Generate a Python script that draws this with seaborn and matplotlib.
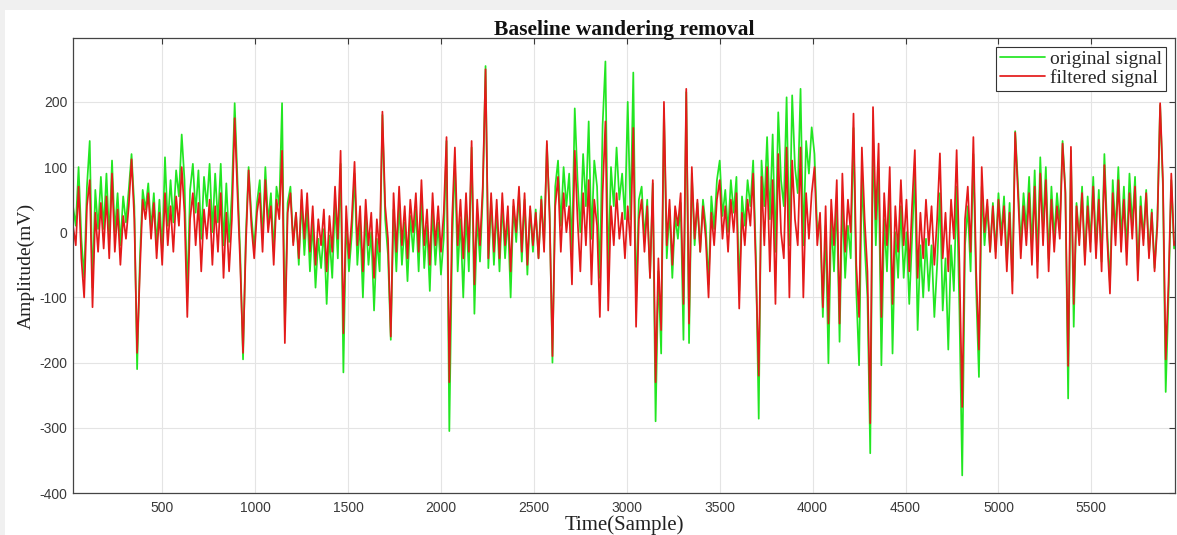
import numpy as np
import pandas as pd
import matplotlib
matplotlib.use("Agg")
import matplotlib.pyplot as plt
from matplotlib.patches import Rectangle
import seaborn as sns

# ---------------- data (one value every 15 samples) ----------------
sample_step = 15
sample_start = 20

filtered_signal = [
    10, -20, 70, -40, -100, 40, 80, -115, 30, -30, 45, -25, 55, -40, 90, -30, 35, -50, 25, -10,
    40, 112, 20, -185, -60, 50, 20, 60, -10, 45, -40, 30, -50, 60,
    -20, 40, -30, 55, 10, 100, 30, -130, 20, 60, -20, 45, -60, 35, -10, 50, -50, 40, -30, 60,
    -70, 30, -60, 20, 175, 60, -50, -185, -20, 95, 10, -40, 30,
    60, -30, 80, 0, 40, -50, 50, 20, 125, -170, 30, 60, -20, 30, -40, 65, -10, 60, -30, 40,
    -50, 20, -20, 35, -60, 25, -30, 70, -10, 125, -155, 40, -40,
    20, 108, -20, 40, -60, 50, -20, 30, -70, 20, -30, 185, 40, -10, -160, 60, -30, 70, -20, 40,
    -40, 50, 0, 60, -30, 80, -20, 35, -50, 60, -20, 40, -30,
    30, 146, -230, 20, 130, -20, 50, -40, 60, -30, 140, -80, 50, -20, 70, 250, -40, 60, -30, 50,
    -40, 60, -20, 40, -60, 50, 0, 70, -30, 60, -50, 40, -20,
    30, -40, 50, -30, 140, 20, -190, 40, 85, -30, 60, 0, 40, -80, 125, 20, -60, 60, -20, 80,
    -80, 50, 10, -130, 60, 170, -120, 40, -20, 60, -10, 30, -40,
    40, -20, 160, -145, 20, 50, -30, 40, -70, 80, -230, -40, -150, 200, -20, 50, -50, 40, 10, 60,
    -110, 220, -140, 100, -10, 50, -30, 40, -10, -100, 30, -20, 50,
    80, -10, 40, -30, 50, 0, 60, -117, 30, -20, 50, 10, 90, -60, -220, 85, -20, 100, -60, 80,
    -110, 120, 0, -40, 130, -100, 110, 20, -20, 130, -100, 60, -10,
    60, 100, -20, 30, -115, 40, -140, 50, -20, 80, -140, 90, -30, 50, 0, 182, -50, -130, 130, 20,
    -60, -293, 192, 20, 136, -130, 60, -20, 100, -110, 40, -30, 80,
    -20, 50, -60, 40, 126, -70, 30, -40, 50, -20, 40, -50, 20, 121, -40, 30, -60, 50, -10, 126,
    -50, -268, 20, 70, -30, 146, -60, -180, 100, 0, 50, -30, 40,
    -40, 50, -20, 40, -60, 30, -94, 153, 60, -40, 40, -20, 60, -50, 70, -70, 90, -20, 80, -60,
    50, -30, 40, -10, 136, 60, -205, 131, -110, 40, -20, 60, -50,
    40, -30, 70, -40, 50, -60, 103, -10, -94, 60, -20, 80, -30, 50, -50, 60, -10, 70, -74, 40,
    -20, 60, -40, 30, -60, 10, 198, 80, -195, -80, 90, -20, -10,
]

original_signal = [
    40, 10, 100, -10, -70, 70, 140, -85, 65, 5, 85, 5, 90, -10, 110, 0, 60, -20, 55, 15,
    65, 120, 40, -210, -40, 65, 35, 75, 5, 60, -20, 50, -30, 115,
    10, 80, 15, 95, 55, 150, 80, -100, 65, 105, 30, 95, -10, 85, 40, 105, 0, 90, 15, 105,
    -20, 75, -15, 60, 198, 80, -35, -195, -5, 100, 25, -25, 45,
    80, -10, 100, 15, 60, -30, 70, 40, 198, -150, 45, 70, -15, 30, -50, 50, -35, 35, -60, 15,
    -85, -10, -55, 5, -110, -5, -70, 45, -40, 105, -215, 20, -60,
    -5, 90, -50, 15, -100, 25, -50, 0, -120, -10, -60, 180, 20, -35, -165, 35, -60, 45, -50, 15,
    -75, 25, -30, 35, -60, 55, -55, 10, -90, 35, -50, 15, -65,
    -10, 140, -305, -20, 110, -60, 20, -100, 30, -60, 130, -125, 25, -45, 55, 255, -55, 50, -50, 35,
    -60, 45, -40, 25, -100, 40, -15, 60, -45, 50, -65, 35, -30,
    35, -40, 55, -20, 135, 30, -200, 70, 110, 10, 100, 40, 90, -30, 190, 80, 0, 120, 40, 170,
    -10, 110, 70, -70, 165, 262, -60, 100, 40, 130, 50, 90, 20,
    200, 20, 245, -110, 50, 70, -10, 50, -70, 75, -290, -60, -186, 190, -40, 35, -70, 25, -10, 45,
    -165, 215, -170, 90, -20, 45, -30, 50, 10, -80, 55, 5, 80,
    110, 25, 65, 0, 80, 30, 85, -90, 55, 10, 80, 40, 110, -40, -286, 110, 40, 146, 20, 150,
    -30, 184, 80, 40, 207, -20, 210, 100, 60, 220, -20, 140, 90,
    161, 120, 0, 20, -130, 10, -201, 20, -60, 50, -168, 50, -70, 10, -40, 160, -90, -204, 90, -20,
    -100, -339, 150, -20, 100, -204, 20, -60, 60, -186, 0, -70, 40,
    -70, 0, -110, -10, 90, -150, -20, -100, -10, -90, -20, -130, -50, 60, -120, -40, -180, -20, -90, 70,
    -120, -373, -20, 40, -60, 120, -90, -222, 70, -20, 40, -30, 45,
    -30, 60, -5, 55, -45, 45, -75, 155, 75, -20, 60, 5, 85, -25, 95, -45, 115, 5, 100, -40,
    70, -10, 60, 10, 140, 65, -255, 125, -145, 45, -10, 70, -40,
    55, -15, 85, -25, 65, -45, 120, 5, -80, 80, 0, 100, -10, 70, -30, 90, 10, 85, -60, 55,
    -10, 65, -35, 35, -55, 20, 195, 70, -245, -100, 80, -25, -10,
]

x_ticks = [500, 1000, 1500, 2000, 2500, 3000, 3500, 4000, 4500, 5000, 5500]
y_ticks = [-400, -300, -200, -100, 0, 100, 200]
series_labels = ["original signal", "filtered signal"]
title_text = "Baseline wandering removal"
x_label = "Time(Sample)"
y_label = "Amplitude(mV)"

# ---------------- figure ----------------
sns.set_theme(style="white")
plt.rcParams["font.family"] = ["Liberation Sans", "DejaVu Sans"]
plt.rcParams["axes.unicode_minus"] = False

W, H = 1177, 535
fig = plt.figure(figsize=(W / 100, H / 100), dpi=100, facecolor="#f0f0f0")
fig.patches.append(Rectangle((5 / W, 0), 1, 1 - 10 / H, transform=fig.transFigure,
                             facecolor="white", edgecolor="none", zorder=-10))

left, right, top, bottom = 73, 1175, 38, 493
ax = fig.add_axes([left / W, 1 - bottom / H, (right - left) / W, (bottom - top) / H])
ax.set_facecolor("white")

orig_x = sample_start + sample_step * np.arange(len(original_signal))
filt_x = sample_start + sample_step * np.arange(len(filtered_signal))
df_orig = pd.DataFrame({"sample": orig_x, "value": original_signal})
df_filt = pd.DataFrame({"sample": filt_x, "value": filtered_signal})

sns.lineplot(data=df_orig, x="sample", y="value", ax=ax, color="#22e622", linewidth=1.25,
             label=series_labels[0], estimator=None, sort=False)
sns.lineplot(data=df_filt, x="sample", y="value", ax=ax, color="#e41a1a", linewidth=1.25,
             label=series_labels[1], estimator=None, sort=False)

ax.set_xlim(20, 5950)
ax.set_ylim(-400, 298)
ax.set_xticks(x_ticks)
ax.set_yticks(y_ticks)
ax.grid(True, color="#e4e4e4", linewidth=0.8)
ax.set_axisbelow(True)
ax.tick_params(direction="in", length=4, width=0.8, top=True, right=True,
               labelsize=10, colors="#3a3a3a")
ax.tick_params(axis="x", pad=6)
ax.tick_params(axis="y", pad=4)
for lab in ax.get_xticklabels() + ax.get_yticklabels():
    lab.set_color("#3a3a3a")
for side, sp in ax.spines.items():
    sp.set_color("#444444")
    sp.set_linewidth(0.9)

serif = ["Liberation Serif", "DejaVu Serif"]
ax.set_title(title_text, family=serif, fontweight="bold", fontsize=15.5, color="#111111", pad=2)
ax.set_xlabel(x_label, family=serif, fontsize=15, color="#222222", labelpad=0)
ax.set_ylabel(y_label, family=serif, fontsize=14, color="#222222", labelpad=3)

leg = ax.legend(loc="upper right", prop={"family": serif, "size": 14}, frameon=True,
                fancybox=False, framealpha=1, edgecolor="#333333", handlelength=2.3,
                handletextpad=0.3, borderpad=0.2, labelspacing=0.05, borderaxespad=0.45)
leg.get_frame().set_linewidth(0.8)

fig.savefig("out.png", dpi=100, facecolor=fig.get_facecolor())
